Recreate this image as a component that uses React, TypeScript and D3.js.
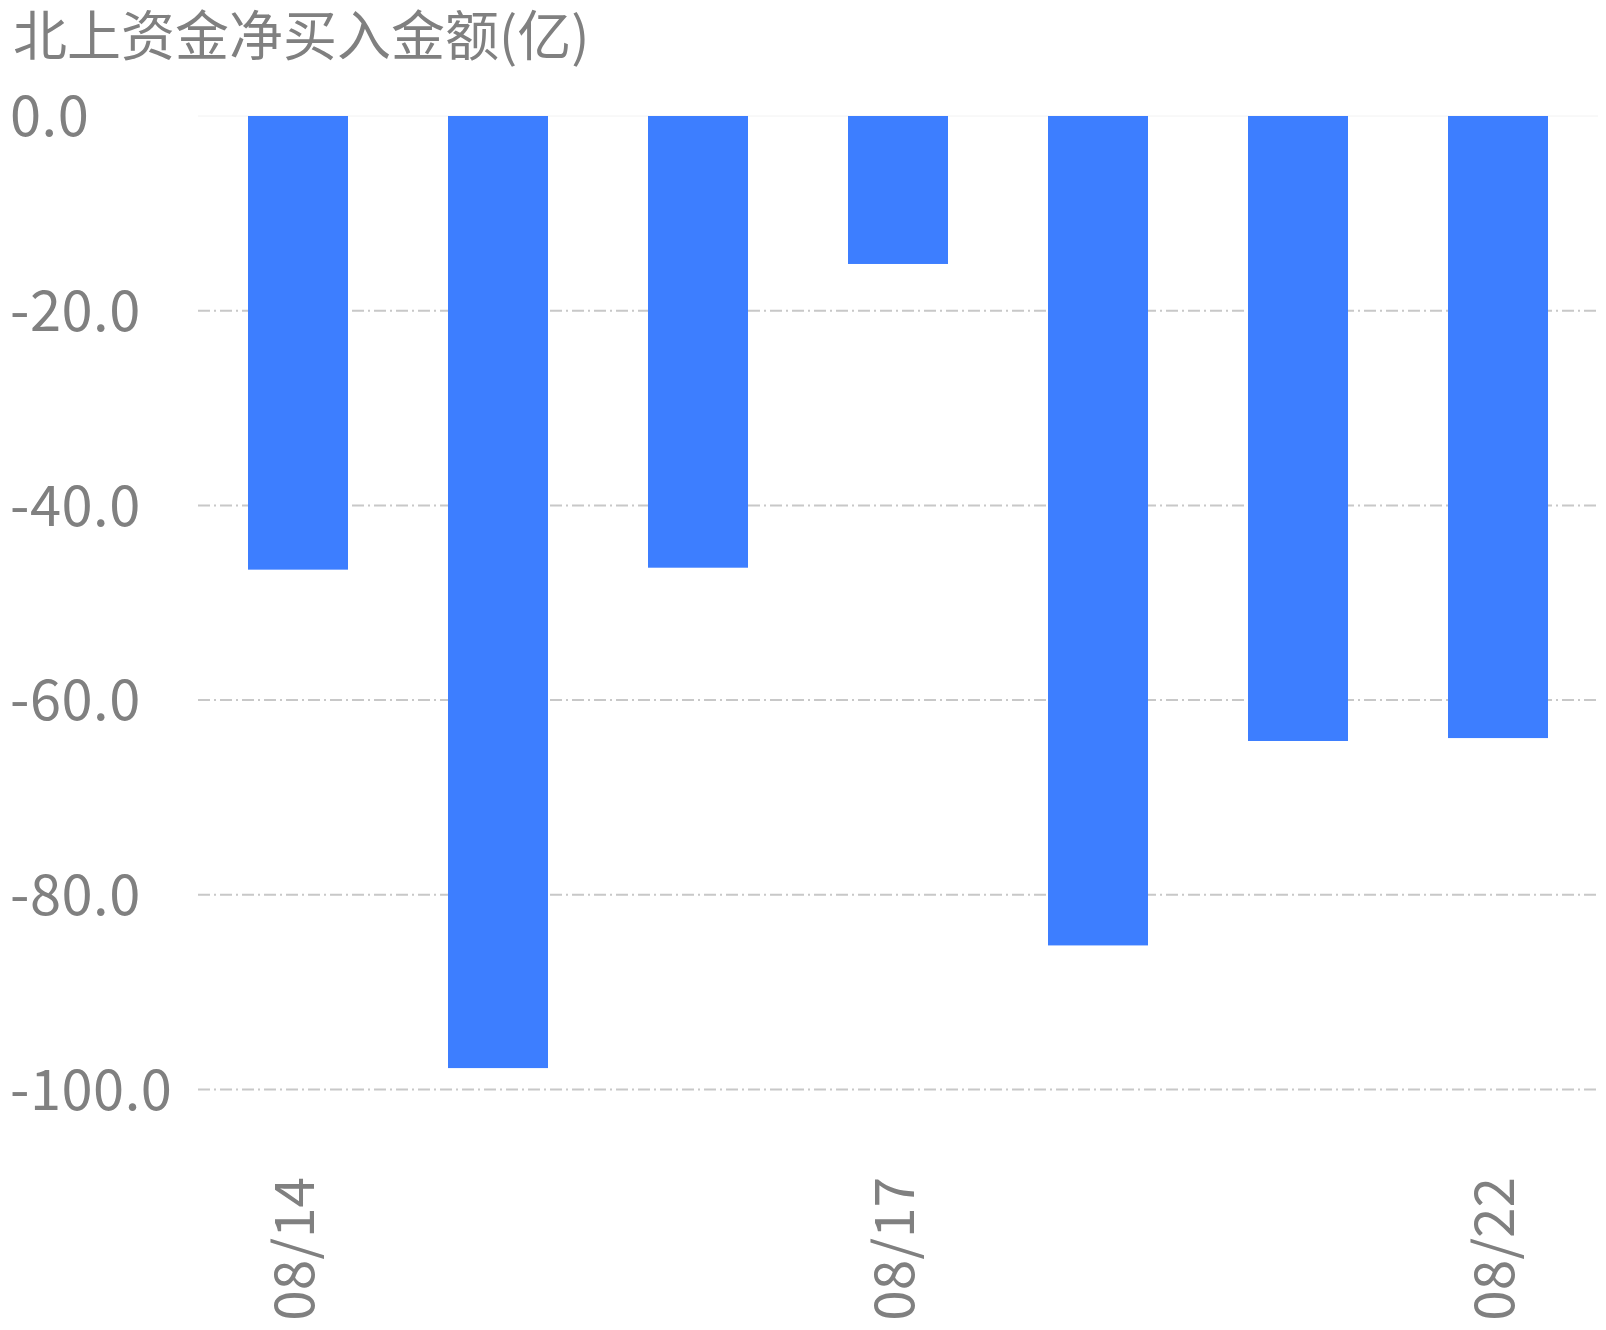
import React from "react";
import * as d3 from "d3";

const categories = ["08/14", "08/15", "08/16", "08/17", "08/18", "08/21", "08/22"];
const values = [-46.6, -97.8, -46.4, -15.2, -85.2, -64.2, -63.9];
const yTicks = [0, -20, -40, -60, -80, -100];
const shownLabels = ["08/14", "08/17", "08/22"];
const title = "北上资金净买入金额(亿)";

const W = 1606;
const H = 1330;
const FONT = "'Noto Sans CJK SC', 'Noto Sans', sans-serif";
const TEXT = "#808080";

export default function App() {
  const x = d3.scaleBand<string>().domain(categories).range([198, 1598]).paddingInner(0.5).paddingOuter(0.25);
  const y = d3.scaleLinear().domain([0, -100]).range([116, 1089.5]);
  return (
    <svg width={W} height={H} style={{ position: "absolute", left: 0, top: 0 }} fontFamily={FONT}>
      <rect width={W} height={H} fill="#fff" />
      <text x={13} y={56} fontSize={54} fill={TEXT}>{title}</text>
      {yTicks.map((t) => (
        <g key={t}>
          {t !== 0 && (
            <line x1={198} x2={1598} y1={y(t)} y2={y(t)} stroke="#c8c8c8" strokeWidth={2} strokeDasharray="12,4,2,4" />
          )}
          <text x={10} y={y(t)} dy="0.36em" fontSize={56} fill={TEXT} letterSpacing={0.5}>{t.toFixed(1)}</text>
        </g>
      ))}
      <line x1={198} x2={1598} y1={y(0)} y2={y(0)} stroke="#f2f2f2" strokeWidth={1} />
      {categories.map((c, i) => (
        <rect key={c} x={x(c)} y={y(0)} width={x.bandwidth()} height={y(values[i]) - y(0)} fill="#3d7eff" />
      ))}
      {shownLabels.map((c) => {
        const cx = (x(c) as number) + x.bandwidth() / 2 + 16;
        return (
          <text key={c} transform={`translate(${cx},1177) rotate(-90)`} textAnchor="end" fontSize={55} fill={TEXT}>{c}</text>
        );
      })}
    </svg>
  );
}
